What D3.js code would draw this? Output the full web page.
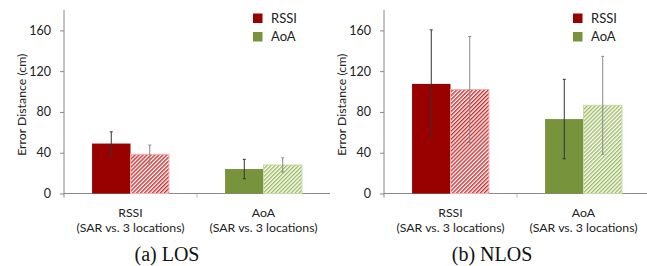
<!DOCTYPE html>
<html><head><meta charset="utf-8">
<script src="https://cdn.jsdelivr.net/npm/d3@7"></script>
<style>body{margin:0;background:#fff}svg{display:block}</style>
</head><body>
<svg id="c" width="647" height="266"></svg>
<script>
const panels = ["(a) LOS", "(b) NLOS"];
const categories = ["RSSI", "AoA"];
const subLabel = "(SAR vs. 3 locations)";
const seriesNames = ["SAR", "3 locations"];
const yTicks = [0, 40, 80, 120, 160];
// values [panel][category][series]
const losMean = [[49, 38.5], [24, 28]];
const losErr = [[11.5, 9], [9.5, 7]];
const nlosMean = [[107.5, 102], [73, 86.5]];
const nlosErr = [[53, 52], [39, 48]];
const legendItems = ["RSSI", "AoA"];

const means = [losMean, nlosMean];
const errs = [losErr, nlosErr];
const solid = ["#990000", "#77933C"];
const hatchCol = ["#CC2A2A", "#9DBB62"];
const hatchBorder = ["#F4B0B0", "#C8D8A8"];

const svg = d3.select("#c");
const defs = svg.append("defs");
hatchCol.forEach((c, i) => {
  const p = defs.append("pattern").attr("id", "h" + i).attr("patternUnits", "userSpaceOnUse")
    .attr("width", 2.8).attr("height", 2.8).attr("patternTransform", "rotate(45)");
  p.append("rect").attr("width", 2.8).attr("height", 2.8).attr("fill", "#fff");
  p.append("rect").attr("width", 1.4).attr("height", 2.8).attr("fill", c);
});

const font = "Lato, 'Open Sans', sans-serif";
const y = d3.scaleLinear().domain([0, 180]).range([193.5, 10]);

panels.forEach((cap, pi) => {
  const ox = pi * 320;
  const g = svg.append("g").attr("transform", `translate(${ox},0)`);
  const x0 = d3.scaleBand().domain(categories).range([64, 330]);
  const x1 = d3.scaleBand().domain(seriesNames).range([0, x0.bandwidth()]).paddingOuter(0.73).paddingInner(0);

  // axes
  g.append("line").attr("x1", 64).attr("x2", 330).attr("y1", y(0)).attr("y2", y(0)).attr("stroke", "#888").attr("stroke-width", 1);
  g.append("line").attr("x1", 64).attr("x2", 64).attr("y1", y(180)).attr("y2", y(0) + 4).attr("stroke", "#888").attr("stroke-width", 1);
  g.append("line").attr("x1", x0("AoA")).attr("x2", x0("AoA")).attr("y1", y(0)).attr("y2", y(0) + 4).attr("stroke", "#bbb");
  const ya = g.append("g").attr("transform", "translate(64,0)")
    .call(d3.axisLeft(y).tickValues(yTicks).tickSize(4).tickPadding(9));
  ya.select(".domain").remove();
  ya.selectAll(".tick line").attr("stroke", "#888");
  ya.selectAll(".tick text").attr("font-family", font).attr("font-size", 12.5).attr("fill", "#222");

  g.append("text").attr("transform", `translate(26,${(y(0) + y(180)) / 2 + 3}) rotate(-90)`)
    .attr("text-anchor", "middle").attr("font-family", font).attr("font-size", 12.3).attr("fill", "#222")
    .text("Error Distance (cm)");

  categories.forEach((cat, ci) => {
    seriesNames.forEach((s, si) => {
      const v = means[pi][ci][si], e = errs[pi][ci][si];
      const bx = x0(cat) + x1(s), bw = x1.bandwidth();
      g.append("rect").attr("x", bx).attr("y", y(v)).attr("width", bw).attr("height", y(0) - y(v))
        .attr("fill", si === 0 ? solid[ci] : `url(#h${ci})`)
        .attr("stroke", si === 0 ? "none" : hatchBorder[ci]).attr("stroke-width", 1);
      const cx = bx + bw / 2;
      const ec = si === 0 ? "#333" : "#8a8a8a";
      g.append("line").attr("x1", cx).attr("x2", cx).attr("y1", y(v + e)).attr("y2", y(v - e)).attr("stroke", ec).attr("stroke-width", 1);
      [v + e, v - e].forEach(t => g.append("line").attr("x1", cx - 1.5).attr("x2", cx + 1.5).attr("y1", y(t)).attr("y2", y(t)).attr("stroke", ec));
    });
    const cx = x0(cat) + x0.bandwidth() / 2;
    g.append("text").attr("x", cx).attr("y", 217).attr("text-anchor", "middle").attr("font-family", font).attr("font-size", 12.3).attr("fill", "#222").text(cat);
    g.append("text").attr("x", cx).attr("y", 232).attr("text-anchor", "middle").attr("font-family", font).attr("font-size", 12.3).attr("fill", "#222").text(subLabel);
  });

  legendItems.forEach((l, li) => {
    g.append("rect").attr("x", 253).attr("y", 13.5 + li * 18.5).attr("width", 9.5).attr("height", 9.5).attr("fill", solid[li]);
    g.append("text").attr("x", 271).attr("y", 22.5 + li * 18.5).attr("font-family", font).attr("font-size", 13).attr("fill", "#222").text(l);
  });

  g.append("text").attr("x", pi === 0 ? 167 : 172).attr("y", 261).attr("text-anchor", "middle")
    .attr("font-family", "'Liberation Serif', 'Times New Roman', serif").attr("font-size", 20).attr("fill", "#111").text(cap);
});
</script>
</body></html>
